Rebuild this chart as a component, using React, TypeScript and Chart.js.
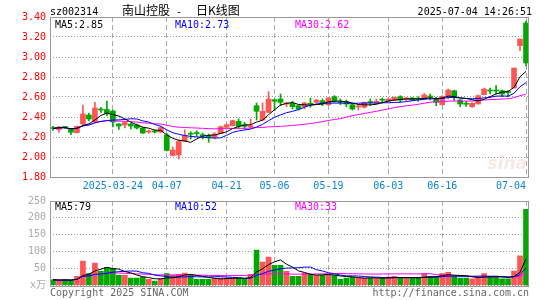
import { useEffect, useRef } from 'react';
import { Chart, registerables } from 'chart.js';

Chart.register(...registerables);

const dates = [
  '2025-03-10','2025-03-11','2025-03-12','2025-03-13','2025-03-14',
  '2025-03-17','2025-03-18','2025-03-19','2025-03-20','2025-03-21',
  '2025-03-24','2025-03-25','2025-03-26','2025-03-27','2025-03-28',
  '2025-03-31','2025-04-01','2025-04-02','2025-04-03',
  '2025-04-07','2025-04-08','2025-04-09','2025-04-10','2025-04-11',
  '2025-04-14','2025-04-15','2025-04-16','2025-04-17','2025-04-18',
  '2025-04-21','2025-04-22','2025-04-23','2025-04-24','2025-04-25',
  '2025-04-28','2025-04-29','2025-04-30',
  '2025-05-06','2025-05-07','2025-05-08','2025-05-09',
  '2025-05-12','2025-05-13','2025-05-14','2025-05-15','2025-05-16',
  '2025-05-19','2025-05-20','2025-05-21','2025-05-22','2025-05-23',
  '2025-05-26','2025-05-27','2025-05-28','2025-05-29','2025-05-30',
  '2025-06-03','2025-06-04','2025-06-05','2025-06-06',
  '2025-06-09','2025-06-10','2025-06-11','2025-06-12','2025-06-13',
  '2025-06-16','2025-06-17','2025-06-18','2025-06-19','2025-06-20',
  '2025-06-23','2025-06-24','2025-06-25','2025-06-26','2025-06-27',
  '2025-06-30','2025-07-01','2025-07-02','2025-07-03','2025-07-04',
];

const opens = [
  2.29, 2.275, 2.30, 2.28, 2.243, 2.33, 2.42, 2.35, 2.475, 2.475,
  2.46, 2.33, 2.32, 2.33, 2.32, 2.29, 2.25, 2.26, 2.25, 2.22,
  2.015, 2.02, 2.16, 2.232, 2.24, 2.223, 2.215, 2.197, 2.237, 2.297,
  2.313, 2.357, 2.323, 2.30, 2.513, 2.37, 2.447, 2.573, 2.58, 2.53,
  2.537, 2.513, 2.503, 2.532, 2.547, 2.563, 2.523, 2.603, 2.55, 2.557,
  2.523, 2.50, 2.497, 2.55, 2.537, 2.572, 2.557, 2.57, 2.603, 2.573,
  2.59, 2.582, 2.58, 2.605, 2.577, 2.523, 2.613, 2.663, 2.57, 2.532,
  2.503, 2.53, 2.623, 2.665, 2.665, 2.663, 2.65, 2.69, 3.113, 3.34,
];

const closes = [
  2.285, 2.30, 2.295, 2.247, 2.307, 2.43, 2.38, 2.49, 2.47, 2.43,
  2.35, 2.31, 2.345, 2.31, 2.29, 2.24, 2.255, 2.25, 2.295, 2.065,
  2.07, 2.155, 2.215, 2.228, 2.235, 2.21, 2.197, 2.23, 2.303, 2.323,
  2.363, 2.307, 2.307, 2.313, 2.457, 2.457, 2.58, 2.557, 2.547, 2.54,
  2.503, 2.48, 2.54, 2.528, 2.57, 2.53, 2.59, 2.563, 2.545, 2.53,
  2.48, 2.505, 2.547, 2.545, 2.557, 2.568, 2.58, 2.597, 2.57, 2.59,
  2.57, 2.578, 2.62, 2.60, 2.547, 2.607, 2.67, 2.597, 2.53, 2.528,
  2.537, 2.613, 2.68, 2.66, 2.66, 2.63, 2.645, 2.89, 3.18, 2.94,
];

const highs = [
  2.307, 2.305, 2.305, 2.285, 2.31, 2.52, 2.44, 2.547, 2.497, 2.56,
  2.47, 2.335, 2.357, 2.34, 2.33, 2.295, 2.27, 2.27, 2.305, 2.235,
  2.10, 2.17, 2.27, 2.253, 2.263, 2.24, 2.23, 2.245, 2.31, 2.33,
  2.37, 2.38, 2.347, 2.38, 2.54, 2.54, 2.653, 2.58, 2.63, 2.547,
  2.557, 2.523, 2.547, 2.59, 2.575, 2.58, 2.597, 2.613, 2.58, 2.57,
  2.53, 2.523, 2.55, 2.58, 2.58, 2.59, 2.585, 2.60, 2.613, 2.597,
  2.595, 2.603, 2.637, 2.63, 2.597, 2.613, 2.68, 2.67, 2.575, 2.557,
  2.545, 2.62, 2.69, 2.69, 2.713, 2.67, 2.663, 2.89, 3.18, 3.36,
];

const lows = [
  2.267, 2.247, 2.285, 2.223, 2.24, 2.325, 2.36, 2.345, 2.447, 2.41,
  2.30, 2.275, 2.29, 2.28, 2.28, 2.235, 2.237, 2.24, 2.245, 2.06,
  2.01, 1.98, 2.155, 2.18, 2.207, 2.18, 2.147, 2.18, 2.235, 2.29,
  2.31, 2.287, 2.28, 2.295, 2.37, 2.365, 2.44, 2.463, 2.513, 2.503,
  2.48, 2.47, 2.48, 2.497, 2.54, 2.513, 2.513, 2.547, 2.523, 2.503,
  2.47, 2.47, 2.49, 2.513, 2.53, 2.537, 2.55, 2.565, 2.547, 2.563,
  2.565, 2.557, 2.575, 2.57, 2.513, 2.52, 2.58, 2.563, 2.503, 2.507,
  2.497, 2.53, 2.62, 2.63, 2.63, 2.603, 2.603, 2.69, 3.063, 2.91,
];

const volumes = [
  17, 15, 17, 15, 27, 72, 35, 66, 42, 54,
  51, 30, 30, 22, 22, 25, 18, 13, 20, 35,
  30, 33, 37, 30, 18, 18, 18, 22, 22, 22,
  22, 22, 18, 33, 105, 69, 84, 60, 60, 42,
  27, 27, 37, 33, 30, 30, 33, 30, 18, 22,
  25, 22, 22, 22, 22, 22, 25, 27, 22, 22,
  22, 22, 35, 27, 25, 35, 39, 27, 22, 22,
  20, 25, 35, 25, 25, 20, 20, 43, 88, 225,
];

const axisLabelDates = ['2025-03-24', '2025-04-07', '2025-04-21', '2025-05-06', '2025-05-19', '2025-06-03', '2025-06-16', '2025-07-04'];
const axisLabelTexts = ['2025-03-24', '04-07', '04-21', '05-06', '05-19', '06-03', '06-16', '07-04'];

const priceMin = 1.8;
const priceMax = 3.4;
const priceStep = 0.2;
const volMin = 0;
const volMax = 250;
const volStep = 50;

const maPeriods = [5, 10, 30];
const priceMaLabels = ['MA5:2.85', 'MA10:2.73', 'MA30:2.62'];
const volMaLabels = ['MA5:79', 'MA10:52', 'MA30:33'];

const stockCode = 'sz002314';
const titleName = '南山控股';
const titleKind = '日K线图';
const timestamp = '2025-07-04 14:26:51';
const copyright = 'Copyright 2025 SINA.COM';
const siteUrl = 'http://finance.sina.com.cn';

const RED = '#ff5555';
const GREEN = '#00a800';
const MA_COLORS = ['#000000', '#0000ff', '#ff00ff'];
const MONO = '"DejaVu Sans Mono", "Noto Sans CJK SC", monospace';
const CJK = '"Noto Sans CJK SC", sans-serif';

function movingAverage(vals: number[], n: number): number[] {
  return vals.map((_, i) => {
    const s = Math.max(0, i - n + 1);
    const w = vals.slice(s, i + 1);
    return w.reduce((a, b) => a + b, 0) / w.length;
  });
}

const upFlags = closes.map((c, i) => c >= opens[i]);
const candleColors = upFlags.map((u) => (u ? RED : GREEN));
const gridIdx = axisLabelDates.map((d) => dates.indexOf(d));

function gridColor(ctx: any) {
  return gridIdx.includes(ctx.index) ? '#aaaaaa' : 'rgba(0,0,0,0)';
}

function xLabel(index: number): string {
  const li = axisLabelDates.indexOf(dates[index]);
  if (li < 0) return '';
  if (index === dates.length - 1) return axisLabelTexts[li] + '     ';
  return axisLabelTexts[li];
}

function framePlugin(id: string) {
  return {
    id,
    afterDatasetsDraw(chart: any) {
      const { ctx, chartArea } = chart;
      ctx.save();
      ctx.setLineDash([]);
      ctx.strokeStyle = '#999999';
      ctx.lineWidth = 1;
      const l = Math.round(chartArea.left) + 0.5;
      const t = Math.round(chartArea.top) + 0.5;
      const r = Math.round(chartArea.right) - 0.5;
      const b = Math.round(chartArea.bottom) + 0.5;
      ctx.strokeRect(l, t, r - l, b - t);
      ctx.restore();
    },
  };
}

const mainTextPlugin = {
  id: 'mainText',
  beforeDatasetsDraw(chart: any) {
    const { ctx, chartArea } = chart;
    ctx.save();
    ctx.fillStyle = 'rgba(215,120,120,0.18)';
    ctx.font = 'italic bold 17px "DejaVu Sans", sans-serif';
    ctx.textAlign = 'right';
    ctx.textBaseline = 'alphabetic';
    ctx.fillText('sina', chartArea.right - 2, chartArea.bottom - 8);
    ctx.restore();
  },
  afterDraw(chart: any) {
    const { ctx } = chart;
    ctx.save();
    ctx.textBaseline = 'alphabetic';
    ctx.fillStyle = '#000';
    ctx.font = '10px ' + MONO;
    ctx.textAlign = 'left';
    ctx.fillText(stockCode, 50, 15);
    ctx.font = '12px ' + CJK;
    ctx.fillText(titleName, 122, 15);
    ctx.fillText(titleKind, 196, 15);
    ctx.font = '10px ' + MONO;
    ctx.fillText('-', 176, 15);
    ctx.textAlign = 'right';
    ctx.fillText(timestamp, 532, 15);
    ctx.textAlign = 'left';
    const xs = [55, 175, 295];
    priceMaLabels.forEach((t, i) => {
      ctx.fillStyle = MA_COLORS[i];
      ctx.fillText(t, xs[i], 28);
    });
    ctx.restore();
  },
};

const volTextPlugin = {
  id: 'volText',
  afterDraw(chart: any) {
    const { ctx } = chart;
    ctx.save();
    ctx.textBaseline = 'alphabetic';
    ctx.font = '10px ' + MONO;
    ctx.textAlign = 'left';
    const xs = [55, 175, 295];
    volMaLabels.forEach((t, i) => {
      ctx.fillStyle = MA_COLORS[i];
      ctx.fillText(t, xs[i], 20);
    });
    ctx.fillStyle = '#666666';
    ctx.fillText(copyright, 50, 106);
    ctx.textAlign = 'right';
    ctx.fillText(siteUrl, 529, 106);
    ctx.restore();
  },
};

function lineDataset(label: string, data: number[], color: string, order: number) {
  return {
    type: 'line' as const,
    label,
    data,
    borderColor: color,
    backgroundColor: color,
    borderWidth: 1,
    pointRadius: 0,
    tension: 0,
    fill: false,
    order,
  };
}

export default function App() {
  const mainRef = useRef<HTMLCanvasElement | null>(null);
  const volRef = useRef<HTMLCanvasElement | null>(null);

  useEffect(() => {
    if (!mainRef.current || !volRef.current) return;
    const priceMAs = maPeriods.map((p) => movingAverage(closes, p));
    const volMAs = maPeriods.map((p) => movingAverage(volumes, p));

    const main = new Chart(mainRef.current, {
      type: 'bar',
      data: {
        labels: dates,
        datasets: [
          ...priceMAs.map((d, i) => lineDataset('MA' + maPeriods[i], d, MA_COLORS[i], i + 1)),
          {
            type: 'bar',
            label: 'body',
            data: opens.map((o, i) => [o, closes[i]]),
            backgroundColor: candleColors,
            barThickness: 5,
            minBarLength: 1,
            grouped: false,
            order: 4,
          },
          {
            type: 'bar',
            label: 'wick',
            data: lows.map((l, i) => [l, highs[i]]),
            backgroundColor: candleColors,
            barThickness: 1,
            grouped: false,
            order: 5,
          },
        ] as any,
      },
      options: {
        animation: false,
        responsive: false,
        maintainAspectRatio: false,
        events: [],
        layout: { padding: { top: 17, right: 16, left: 0, bottom: 0 } },
        plugins: { legend: { display: false }, tooltip: { enabled: false } },
        scales: {
          x: {
            type: 'category',
            offset: true,
            grid: { offset: false, drawTicks: false, color: gridColor as any, lineWidth: 1 },
            border: { display: false, dash: [5, 3] },
            ticks: {
              autoSkip: false,
              maxRotation: 0,
              minRotation: 0,
              padding: 3,
              color: '#0b84d0',
              font: { family: MONO, size: 10 },
              callback: (_v: any, i: number) => xLabel(i),
            },
            afterFit: (s: any) => {
              s.height = 19;
              s.paddingLeft = 0;
              s.paddingRight = 0;
            },
          },
          y: {
            min: priceMin,
            max: priceMax,
            ticks: {
              stepSize: priceStep,
              color: '#ff0000',
              padding: 4,
              font: { family: MONO, size: 10 },
              callback: (v: any) => Number(v).toFixed(2),
            },
            grid: { color: '#999999', drawTicks: false, lineWidth: 1 },
            border: { display: false, dash: [1, 2] },
            afterFit: (s: any) => {
              s.width = 50;
            },
          },
        },
      } as any,
      plugins: [framePlugin('mainFrame'), mainTextPlugin],
    });

    const vol = new Chart(volRef.current, {
      type: 'bar',
      data: {
        labels: dates,
        datasets: [
          ...volMAs.map((d, i) => lineDataset('VMA' + maPeriods[i], d, MA_COLORS[i], i + 1)),
          {
            type: 'bar',
            label: 'volume',
            data: volumes,
            backgroundColor: candleColors,
            barThickness: 5,
            grouped: false,
            order: 4,
          },
        ] as any,
      },
      options: {
        animation: false,
        responsive: false,
        maintainAspectRatio: false,
        events: [],
        layout: { padding: { top: 11, right: 16, left: 0, bottom: 14.5 } },
        plugins: { legend: { display: false }, tooltip: { enabled: false } },
        scales: {
          x: {
            type: 'category',
            offset: true,
            grid: { offset: false, drawTicks: false, color: gridColor as any, lineWidth: 1 },
            border: { display: false, dash: [5, 3] },
            ticks: { display: false, autoSkip: false, maxRotation: 0 },
            afterFit: (s: any) => {
              s.height = 0;
              s.paddingLeft = 0;
              s.paddingRight = 0;
            },
          },
          y: {
            min: volMin,
            max: volMax,
            ticks: {
              stepSize: volStep,
              color: '#aaaaaa',
              padding: 4,
              font: { family: MONO, size: 10 },
              callback: (v: any) => (Number(v) === 0 ? 'x万' : String(v)),
            },
            grid: { color: '#999999', drawTicks: false, lineWidth: 1 },
            border: { display: false, dash: [1, 2] },
            afterFit: (s: any) => {
              s.width = 50;
            },
          },
        },
      } as any,
      plugins: [framePlugin('volFrame'), volTextPlugin],
    });

    return () => {
      main.destroy();
      vol.destroy();
    };
  }, []);

  return (
    <div style={{ position: 'absolute', left: 0, top: 0, width: 545, height: 300, background: '#fff', overflow: 'hidden' }}>
      <canvas
        ref={mainRef}
        width={545}
        height={196}
        style={{ position: 'absolute', left: 0, top: 0, width: 545, height: 196 }}
      />
      <canvas
        ref={volRef}
        width={545}
        height={110}
        style={{ position: 'absolute', left: 0, top: 190, width: 545, height: 110 }}
      />
    </div>
  );
}
